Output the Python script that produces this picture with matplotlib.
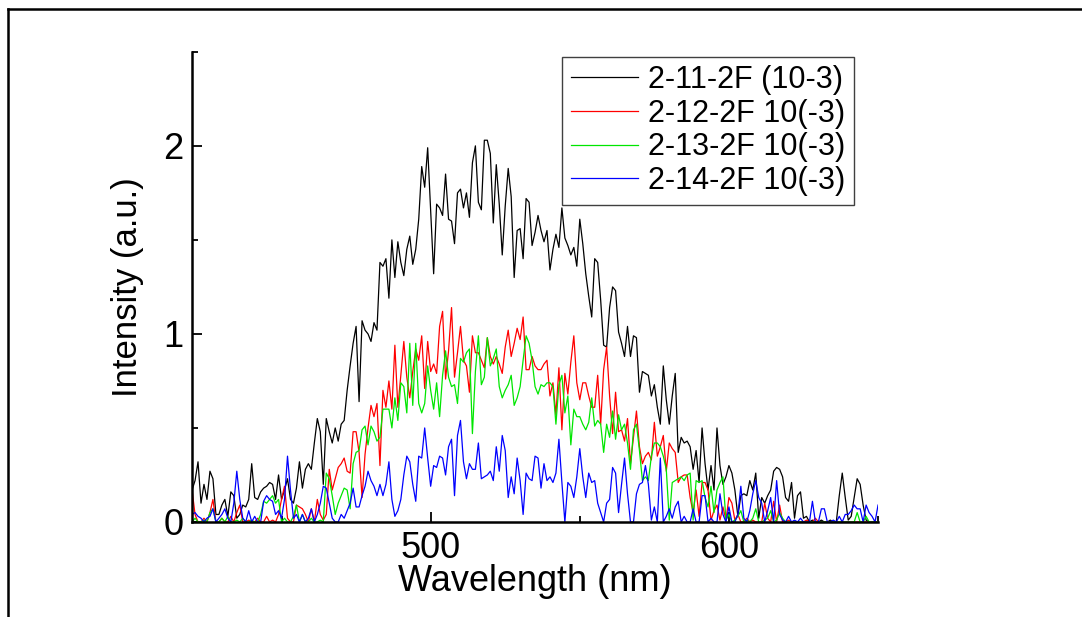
import numpy as np
import matplotlib
matplotlib.use("Agg")
import matplotlib.pyplot as plt
from matplotlib.lines import Line2D
from matplotlib.ticker import MultipleLocator

# Wavelength grid (nm), one reading per nm
wavelength = np.arange(420, 651, 1)

# Intensity readings (a.u.) for each sample
sample_11 = [
    0.17, 0.22, 0.32, 0.10, 0.20, 0.12, 0.27, 0.23, 0.04, 0.04,
    0.09, 0.12, 0.03, 0.16, 0.14, 0.02, 0.04, 0.09, 0.08, 0.12,
    0.31, 0.13, 0.12, 0.16, 0.18, 0.19, 0.21, 0.20, 0.12, 0.25,
    0.12, 0.17, 0.23, 0.12, 0.10, 0.18, 0.32, 0.18, 0.28, 0.31,
    0.28, 0.42, 0.55, 0.48, 0.20, 0.55, 0.48, 0.42, 0.50, 0.43,
    0.52, 0.54, 0.70, 0.83, 0.95, 1.04, 0.64, 1.07, 1.02, 1.00,
    0.96, 1.06, 1.02, 1.38, 1.36, 1.40, 1.19, 1.50, 1.30, 1.49,
    1.38, 1.31, 1.45, 1.52, 1.37, 1.45, 1.61, 1.89, 1.78, 1.99,
    1.66, 1.32, 1.69, 1.67, 1.63, 1.85, 1.61, 1.60, 1.48, 1.75,
    1.77, 1.67, 1.75, 1.62, 1.91, 2.00, 1.70, 1.66, 2.03, 2.03,
    1.96, 1.59, 1.90, 1.69, 1.42, 1.68, 1.88, 1.73, 1.30, 1.55,
    1.56, 1.40, 1.72, 1.70, 1.47, 1.54, 1.63, 1.55, 1.49, 1.55,
    1.34, 1.45, 1.53, 1.46, 1.67, 1.51, 1.47, 1.42, 1.46, 1.36,
    1.61, 1.48, 1.32, 1.20, 1.09, 1.40, 1.38, 1.18, 0.94, 0.93,
    1.14, 1.25, 1.23, 1.01, 0.95, 0.88, 1.04, 0.88, 0.99, 0.98,
    0.69, 0.80, 0.79, 0.78, 0.67, 0.73, 0.61, 0.52, 0.83, 0.65,
    0.52, 0.67, 0.79, 0.37, 0.45, 0.42, 0.43, 0.40, 0.28, 0.38,
    0.21, 0.50, 0.31, 0.17, 0.30, 0.17, 0.50, 0.30, 0.20, 0.24,
    0.30, 0.26, 0.17, 0.03, 0.14, 0.15, 0.14, 0.22, 0.17, 0.26,
    0.02, 0.13, 0.10, 0.14, 0.17, 0.27, 0.29, 0.28, 0.24, 0.13,
    0.11, 0.21, 0.02, 0.14, 0.16, 0.02, 0.03, 0.00, 0.01, 0.00,
    0.00, 0.01, 0.00, 0.00, 0.01, 0.00, 0.00, 0.14, 0.26, 0.13,
    0.01, 0.03, 0.13, 0.23, 0.20, 0.09, 0.01, 0.00, 0.00, 0.00,
    0.00,
]

sample_12 = [
    0.17, 0.04, 0.00, 0.00, 0.02, 0.00, 0.05, 0.12, 0.00, 0.00,
    0.02, 0.00, 0.00, 0.03, 0.00, 0.05, 0.09, 0.00, 0.00, 0.01,
    0.00, 0.00, 0.02, 0.00, 0.00, 0.03, 0.00, 0.01, 0.00, 0.04,
    0.12, 0.19, 0.02, 0.00, 0.00, 0.09, 0.08, 0.07, 0.04, 0.00,
    0.07, 0.00, 0.12, 0.04, 0.01, 0.04, 0.28, 0.17, 0.23, 0.29,
    0.31, 0.34, 0.27, 0.26, 0.48, 0.48, 0.37, 0.13, 0.36, 0.50,
    0.62, 0.56, 0.63, 0.30, 0.70, 0.61, 0.75, 0.60, 0.94, 0.61,
    0.78, 0.96, 0.77, 0.66, 0.80, 0.92, 0.86, 0.99, 0.71, 0.96,
    0.80, 0.84, 0.79, 1.04, 1.12, 0.76, 0.91, 1.14, 0.77, 0.90,
    1.04, 0.86, 0.83, 0.69, 0.99, 0.90, 0.90, 0.86, 0.82, 0.98,
    0.88, 0.84, 0.88, 0.84, 0.79, 0.93, 1.02, 0.88, 0.95, 1.03,
    0.97, 1.09, 0.81, 0.81, 0.88, 0.83, 0.81, 0.81, 0.84, 0.86,
    0.67, 0.74, 0.57, 0.82, 0.49, 0.79, 0.68, 0.85, 0.99, 0.74,
    0.65, 0.74, 0.74, 0.67, 0.61, 0.61, 0.78, 0.52, 0.81, 0.93,
    0.67, 0.47, 0.69, 0.48, 0.49, 0.43, 0.55, 0.31, 0.45, 0.59,
    0.40, 0.31, 0.35, 0.37, 0.33, 0.53, 0.35, 0.40, 0.46, 0.27,
    0.42, 0.39, 0.37, 0.21, 0.24, 0.25, 0.25, 0.13, 0.05, 0.17,
    0.03, 0.21, 0.21, 0.17, 0.01, 0.06, 0.09, 0.01, 0.08, 0.01,
    0.13, 0.10, 0.01, 0.04, 0.00, 0.00, 0.02, 0.00, 0.01, 0.00,
    0.00, 0.00, 0.10, 0.02, 0.00, 0.11, 0.00, 0.09, 0.00, 0.00,
    0.01, 0.00, 0.00, 0.00, 0.00, 0.00, 0.01, 0.00, 0.00, 0.02,
    0.00, 0.00, 0.00, 0.00, 0.00, 0.00, 0.00, 0.00, 0.00, 0.00,
    0.00, 0.00, 0.00, 0.00, 0.00, 0.00, 0.00, 0.00, 0.00, 0.00,
    0.00,
]

sample_13 = [
    0.00, 0.02, 0.00, 0.00, 0.01, 0.00, 0.05, 0.07, 0.00, 0.00,
    0.02, 0.00, 0.03, 0.00, 0.00, 0.01, 0.00, 0.02, 0.00, 0.00,
    0.01, 0.00, 0.00, 0.04, 0.11, 0.10, 0.12, 0.14, 0.10, 0.12,
    0.00, 0.02, 0.00, 0.00, 0.03, 0.09, 0.00, 0.04, 0.00, 0.00,
    0.02, 0.00, 0.00, 0.01, 0.00, 0.26, 0.23, 0.14, 0.04, 0.10,
    0.14, 0.18, 0.17, 0.07, 0.31, 0.37, 0.38, 0.49, 0.51, 0.41,
    0.51, 0.48, 0.43, 0.45, 0.60, 0.60, 0.60, 0.50, 0.66, 0.54,
    0.74, 0.72, 0.58, 0.95, 0.62, 0.95, 0.63, 0.58, 0.63, 0.83,
    0.70, 0.60, 0.74, 0.56, 0.78, 0.91, 0.77, 0.72, 0.73, 0.63,
    0.87, 0.85, 0.90, 0.92, 0.47, 0.80, 0.99, 0.73, 0.77, 0.98,
    0.83, 0.87, 0.92, 0.72, 0.66, 0.70, 0.73, 0.78, 0.62, 0.66,
    0.72, 0.86, 0.99, 0.95, 0.86, 0.72, 0.68, 0.73, 0.72, 0.74,
    0.74, 0.72, 0.52, 0.73, 0.78, 0.58, 0.67, 0.41, 0.60, 0.56,
    0.56, 0.52, 0.49, 0.53, 0.66, 0.51, 0.54, 0.52, 0.37, 0.52,
    0.45, 0.59, 0.44, 0.57, 0.49, 0.52, 0.42, 0.28, 0.49, 0.52,
    0.38, 0.22, 0.24, 0.22, 0.35, 0.42, 0.42, 0.40, 0.35, 0.28,
    0.01, 0.21, 0.22, 0.23, 0.24, 0.22, 0.25, 0.26, 0.01, 0.22,
    0.21, 0.22, 0.13, 0.08, 0.19, 0.05, 0.17, 0.21, 0.24, 0.01,
    0.04, 0.00, 0.01, 0.03, 0.06, 0.00, 0.01, 0.00, 0.02, 0.07,
    0.00, 0.00, 0.01, 0.02, 0.06, 0.00, 0.01, 0.05, 0.02, 0.00,
    0.00, 0.00, 0.00, 0.00, 0.00, 0.00, 0.00, 0.00, 0.00, 0.00,
    0.00, 0.00, 0.00, 0.00, 0.00, 0.00, 0.00, 0.00, 0.00, 0.00,
    0.00, 0.00, 0.00, 0.05, 0.00, 0.00, 0.03, 0.00, 0.00, 0.00,
    0.00,
]

sample_14 = [
    0.04, 0.05, 0.03, 0.02, 0.00, 0.02, 0.03, 0.07, 0.00, 0.02,
    0.04, 0.07, 0.02, 0.00, 0.10, 0.27, 0.12, 0.02, 0.00, 0.06,
    0.00, 0.03, 0.00, 0.00, 0.11, 0.14, 0.12, 0.11, 0.04, 0.06,
    0.02, 0.12, 0.35, 0.17, 0.02, 0.04, 0.00, 0.04, 0.00, 0.02,
    0.07, 0.00, 0.04, 0.10, 0.19, 0.18, 0.10, 0.02, 0.00, 0.00,
    0.04, 0.02, 0.06, 0.10, 0.18, 0.08, 0.08, 0.14, 0.19, 0.27,
    0.22, 0.19, 0.14, 0.20, 0.14, 0.20, 0.32, 0.12, 0.03, 0.06,
    0.12, 0.25, 0.35, 0.32, 0.20, 0.11, 0.35, 0.34, 0.50, 0.34,
    0.19, 0.30, 0.29, 0.35, 0.34, 0.25, 0.40, 0.44, 0.14, 0.46,
    0.54, 0.32, 0.23, 0.31, 0.28, 0.28, 0.42, 0.23, 0.24, 0.25,
    0.27, 0.22, 0.40, 0.27, 0.46, 0.38, 0.13, 0.24, 0.15, 0.34,
    0.22, 0.04, 0.26, 0.23, 0.22, 0.35, 0.34, 0.18, 0.31, 0.22,
    0.24, 0.21, 0.26, 0.44, 0.21, 0.00, 0.21, 0.19, 0.13, 0.24,
    0.39, 0.24, 0.13, 0.26, 0.21, 0.22, 0.10, 0.05, 0.00, 0.10,
    0.12, 0.29, 0.26, 0.05, 0.20, 0.34, 0.15, 0.00, 0.00, 0.15,
    0.20, 0.21, 0.30, 0.20, 0.01, 0.08, 0.00, 0.34, 0.00, 0.03,
    0.07, 0.02, 0.08, 0.11, 0.00, 0.03, 0.00, 0.00, 0.07, 0.00,
    0.00, 0.14, 0.14, 0.00, 0.02, 0.00, 0.00, 0.15, 0.04, 0.00,
    0.08, 0.00, 0.00, 0.04, 0.19, 0.02, 0.00, 0.06, 0.15, 0.22,
    0.13, 0.10, 0.00, 0.06, 0.13, 0.00, 0.22, 0.04, 0.01, 0.00,
    0.03, 0.00, 0.01, 0.00, 0.02, 0.00, 0.00, 0.00, 0.11, 0.00,
    0.00, 0.07, 0.07, 0.00, 0.00, 0.01, 0.00, 0.03, 0.00, 0.04,
    0.04, 0.06, 0.09, 0.07, 0.07, 0.00, 0.09, 0.05, 0.03, 0.00,
    0.09,
]

labels = ["2-11-2F (10-3)", "2-12-2F 10(-3)", "2-13-2F 10(-3)", "2-14-2F 10(-3)"]
colors = ["#000000", "#ff0000", "#00e600", "#0000ff"]

plt.rcParams["font.family"] = ["Liberation Sans", "DejaVu Sans"]

fig = plt.figure(figsize=(10.82, 6.17), dpi=100)
ax = fig.add_axes([0.1775, 0.154, 0.634, 0.762])

for values, label, color in zip([sample_11, sample_12, sample_13, sample_14], labels, colors):
    ax.plot(wavelength, values, color=color, lw=0.9, label=label)

ax.set_xlim(420, 650)
ax.set_ylim(0, 2.5)

# Only left and bottom axis lines, ticks pointing inwards
for side in ["top", "right"]:
    ax.spines[side].set_visible(False)
for side in ["left", "bottom"]:
    ax.spines[side].set_linewidth(1.8)

ax.xaxis.set_major_locator(MultipleLocator(100))
ax.xaxis.set_minor_locator(MultipleLocator(50))
ax.yaxis.set_major_locator(MultipleLocator(1))
ax.yaxis.set_minor_locator(MultipleLocator(0.5))
ax.tick_params(which="both", direction="in", width=1.3, labelsize=26, pad=6)
ax.tick_params(which="major", length=7)
ax.tick_params(which="minor", length=4.5)
ax.tick_params(axis="x", pad=6.5)

ax.set_xlabel("Wavelength (nm)", fontsize=26, labelpad=-1.5)
ax.set_ylabel("Intensity (a.u.)", fontsize=25, labelpad=14)

legend = ax.legend(
    loc="upper right", bbox_to_anchor=(0.965, 0.99), fontsize=22,
    frameon=True, fancybox=False, edgecolor="#404040", framealpha=1,
    handlelength=2.2, handletextpad=0.33, borderpad=0.28,
    labelspacing=0.12, borderaxespad=0,
)
legend.get_frame().set_linewidth(1.0)

# Partial frame around the figure: left and top edges only
fig.add_artist(Line2D([8 / 1082, 8 / 1082], [0, 1 - 9 / 617],
                      transform=fig.transFigure, color="black", lw=1.8))
fig.add_artist(Line2D([8 / 1082, 1], [1 - 9 / 617, 1 - 9 / 617],
                      transform=fig.transFigure, color="black", lw=1.8))

fig.savefig("out.png", dpi=100)
